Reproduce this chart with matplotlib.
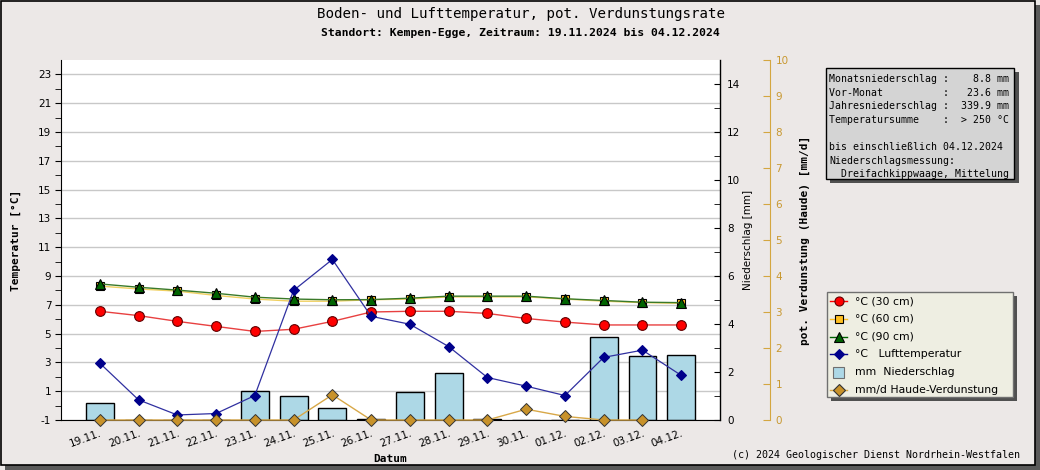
import matplotlib
matplotlib.use("Agg")
import matplotlib.pyplot as plt
import numpy as np
from matplotlib.patches import Rectangle
from matplotlib.lines import Line2D

plt.rcParams["axes.unicode_minus"] = False

# ---------------- data ----------------
dates = ["19.11.", "20.11.", "21.11.", "22.11.", "23.11.", "24.11.", "25.11.", "26.11.",
         "27.11.", "28.11.", "29.11.", "30.11.", "01.12.", "02.12.", "03.12.", "04.12."]
t30 = [6.55, 6.25, 5.85, 5.5, 5.15, 5.3, 5.85, 6.5, 6.55, 6.55, 6.4, 6.05, 5.8, 5.6, 5.6, 5.6]
t60 = [8.3, 8.1, 7.95, 7.65, 7.4, 7.25, 7.25, 7.35, 7.4, 7.55, 7.55, 7.55, 7.4, 7.25, 7.15, 7.1]
t90 = [8.45, 8.22, 8.02, 7.8, 7.53, 7.4, 7.35, 7.36, 7.46, 7.6, 7.6, 7.6, 7.42, 7.3, 7.18, 7.15]
tair = [2.95, 0.4, -0.65, -0.55, 0.7, 8.0, 10.15, 6.2, 5.65, 4.1, 1.95, 1.35, 0.7, 3.35, 3.85, 2.1]
precip = [0.7, 0.0, 0.0, 0.0, 1.2, 1.0, 0.5, 0.05, 1.15, 1.95, 0.05, 0.0, 0.0, 3.45, 2.65, 2.7]
evap = [0.0, 0.0, 0.0, 0.0, 0.0, 0.0, 0.7, 0.0, 0.0, 0.0, 0.0, 0.3, 0.1, 0.0, 0.0, np.nan]

title = "Boden- und Lufttemperatur, pot. Verdunstungsrate"
subtitle = "Standort: Kempen-Egge, Zeitraum: 19.11.2024 bis 04.12.2024"
info_lines = ["Monatsniederschlag :    8.8 mm",
              "Vor-Monat          :   23.6 mm",
              "Jahresniederschlag :  339.9 mm",
              "Temperatursumme    :  > 250 °C",
              "",
              "bis einschließlich 04.12.2024",
              "Niederschlagsmessung:",
              "  Dreifachkippwaage, Mittelung"]
legend_labels = ["°C (30 cm)", "°C (60 cm)", "°C (90 cm)", "°C   Lufttemperatur",
                 "mm  Niederschlag", "mm/d Haude-Verdunstung"]
copyright_txt = "(c) 2024 Geologischer Dienst Nordrhein-Westfalen"

# ---------------- styles ----------------
BG = "#ECE8E7"
C_RED = "#FF0000"
C_ORG = "#FFC020"
C_GRN = "#006400"
C_BLU = "#00008B"
C_BAR = "#ADD8E6"
C_EVM = "#C8922A"
C_EVA = "#D4A640"
MONO = "DejaVu Sans Mono"

W, H = 1040, 470
fig = plt.figure(figsize=(W / 100, H / 100), dpi=100, facecolor=BG)

def fx(px):
    return px / W

def fy(py):
    return 1 - py / H

# background frame layer
bg = fig.add_axes([0, 0, 1, 1], zorder=-10)
bg.set_xlim(0, W)
bg.set_ylim(H, 0)
bg.axis("off")
bg.patch.set_visible(False)
bg.add_patch(Rectangle((5, 5), 1035, 465, facecolor="#5A5A5A", edgecolor="none", zorder=0))
bg.add_patch(Rectangle((1, 1), 1034, 464, facecolor=BG, edgecolor="black", lw=1.2, zorder=1))

L, R, T, B = 61, 720, 60, 420
ax = fig.add_axes([fx(L), fy(B), fx(R) - fx(L), fy(T) - fy(B)])
x = np.arange(len(dates))

axp = ax.twinx()
axe = ax.twinx()

ax.set_zorder(3)
ax.patch.set_visible(False)
axp.set_zorder(1)
axe.set_zorder(4)
axe.patch.set_visible(False)
axp.patch.set_visible(True)
axp.patch.set_facecolor("white")

axp.bar(x, precip, width=0.72, color=C_BAR, edgecolor="black", linewidth=1.0, zorder=2)
axp.set_ylim(0, 15)
axp.set_yticks(np.arange(0, 15, 2))
axp.set_yticks(np.arange(1, 15, 2), minor=True)
axp.tick_params(axis="y", direction="in", length=4, labelsize=7.5, pad=5, colors="black")
axp.tick_params(axis="y", which="minor", direction="in", length=4)
axp.set_ylabel("Niederschlag [mm]", fontsize=7.5, labelpad=2)
for s in ["top", "left", "bottom"]:
    axp.spines[s].set_visible(False)
axp.spines["right"].set_linewidth(1.0)

# horizontal grid at the temperature major ticks (behind the bars)
for v in range(-1, 24, 2):
    axp.axhline((v + 1) * 15 / 25, color="#C8C8C8", lw=1.0, zorder=0)

# temperature
ax.plot(x, t60, color="#F0D060", lw=1.0, marker="s", ms=6, mfc=C_ORG, mec="black", mew=0.8, zorder=3)
ax.plot(x, t90, color="#3A7A2A", lw=1.0, marker="^", ms=6.5, mfc=C_GRN, mec="black", mew=0.8, zorder=4)
ax.plot(x, t30, color="#E84040", lw=1.0, marker="o", ms=7, mfc=C_RED, mec="#600000", mew=0.8, zorder=5)
ax.plot(x, tair, color="#3030A0", lw=0.9, marker="D", ms=5.5, mfc=C_BLU, mec=C_BLU, mew=0.8, zorder=6)
ax.set_ylim(-1, 24)
ax.set_xlim(-1, 16)
ax.set_yticks(np.arange(-1, 24, 2))
ax.set_yticks(np.arange(0, 24, 2), minor=True)
ax.tick_params(axis="y", which="both", direction="out", length=4, labelsize=7.5, pad=3)
ax.set_xticks(x)
ax.set_xticklabels(dates, rotation=20, ha="right", rotation_mode="anchor", fontsize=7.5)
ax.tick_params(axis="x", length=0, pad=6)
for s in ["top", "right"]:
    ax.spines[s].set_visible(False)
ax.set_ylabel("Temperatur [°C]", fontsize=8, fontweight="bold", family=MONO, labelpad=12)
ax.set_xlabel("Datum", fontsize=8, fontweight="bold", family=MONO, labelpad=0)
ax.xaxis.set_label_coords(0.5, -0.095)

# evaporation
axe.plot(x, evap, color="#D8A848", lw=1.0, marker="D", ms=6, mfc=C_EVM, mec="#333333", mew=0.7,
         zorder=5, clip_on=False)
axe.set_ylim(0, 10)
axe.set_yticks(np.arange(0, 11, 1))
axe.spines["right"].set_position(("axes", (770 - L) / (R - L)))
for s in ["top", "left", "bottom"]:
    axe.spines[s].set_visible(False)
axe.spines["right"].set_color(C_EVA)
axe.tick_params(axis="y", direction="in", length=5, labelsize=7.5, colors=C_EVA, pad=4)
axe.tick_params(axis="y", labelcolor="#C89830")
axe.set_ylabel("pot. Verdunstung (Haude) [mm/d]", fontsize=8, fontweight="bold", family=MONO, labelpad=8)

# ---------------- overlay (texts and boxes) ----------------
ov = fig.add_axes([0, 0, 1, 1], zorder=10)
ov.set_xlim(0, W)
ov.set_ylim(H, 0)
ov.axis("off")
ov.patch.set_visible(False)

ov.text(521, 14, title, ha="center", va="center", fontsize=10.2, family=MONO)
ov.text(520, 33, subtitle, ha="center", va="center", fontsize=8.2, family=MONO, fontweight="bold")

# info box
ov.add_patch(Rectangle((830, 72), 189, 111, facecolor="#505050", edgecolor="none", zorder=1))
ov.add_patch(Rectangle((826, 68), 188, 111, facecolor="#D4D4D4", edgecolor="black", lw=1.0, zorder=2))
for i, line in enumerate(info_lines):
    ov.text(829, 79 + i * 13.6, line, ha="left", va="center", fontsize=7.1, family=MONO, zorder=3)

# legend box
ov.add_patch(Rectangle((831, 296), 186, 105, facecolor="#505050", edgecolor="none", zorder=1))
ov.add_patch(Rectangle((827, 292), 186, 105, facecolor="#EEEEE2", edgecolor="#707070", lw=1.0, zorder=2))
leg_styles = [
    dict(color=C_RED, marker="o", ms=6.5, mfc=C_RED, mec="#600000"),
    dict(color=C_ORG, marker="s", ms=6, mfc=C_ORG, mec="black"),
    dict(color=C_GRN, marker="^", ms=6.5, mfc=C_GRN, mec="black"),
    dict(color=C_BLU, marker="D", ms=5, mfc=C_BLU, mec=C_BLU),
    None,
    dict(color="#D8A848", marker="D", ms=6, mfc=C_EVM, mec="#333333"),
]
for i, (lab, st) in enumerate(zip(legend_labels, leg_styles)):
    yy = 301 + i * 17.8
    if st is None:
        ov.add_patch(Rectangle((833, yy - 5.5), 11, 11, facecolor=C_BAR, edgecolor="#707070", lw=0.8, zorder=3))
    else:
        ov.add_line(Line2D([830, 847], [yy, yy], lw=1.0, color=st["color"], zorder=3))
        ov.add_line(Line2D([838.5], [yy], lw=0, marker=st["marker"], ms=st["ms"], mfc=st["mfc"],
                           mec=st["mec"], mew=0.8, zorder=4))
    ov.text(855, yy, lab, ha="left", va="center", fontsize=7.8, zorder=4)

ov.text(1020, 455, copyright_txt, ha="right", va="center", fontsize=7.2, family=MONO)

fig.savefig("out.png", dpi=100, facecolor=BG)
